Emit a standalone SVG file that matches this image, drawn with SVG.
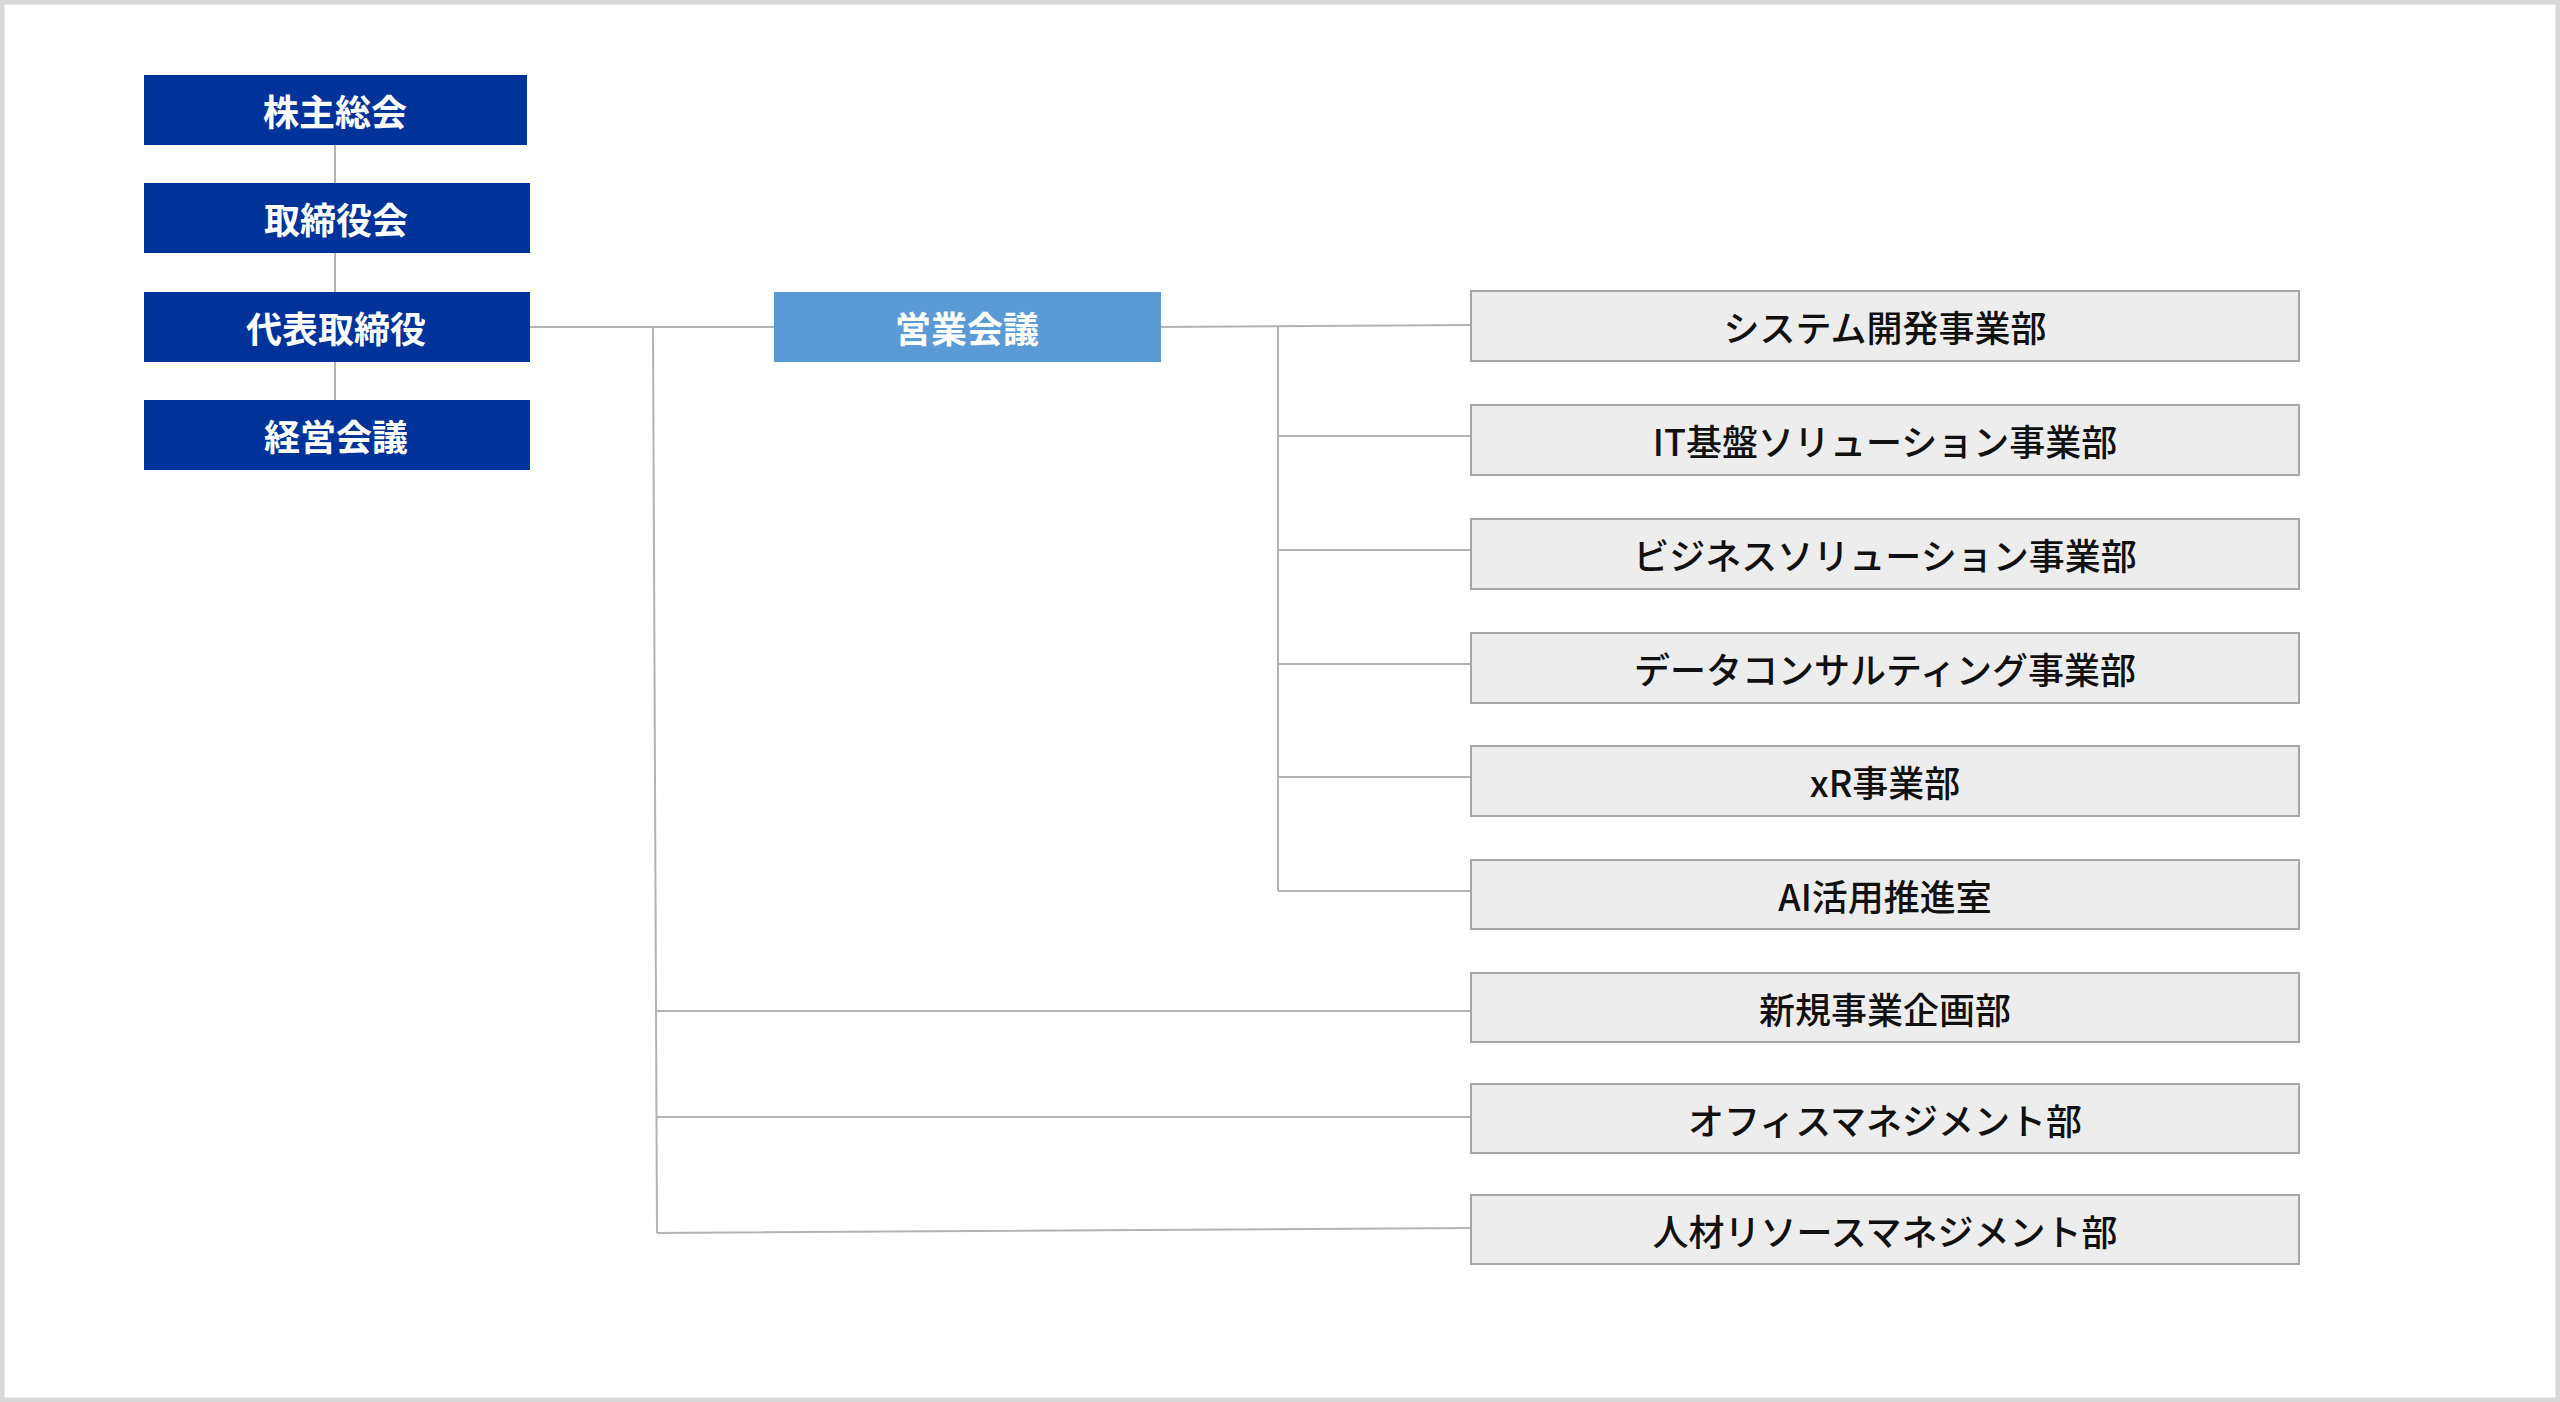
<svg xmlns="http://www.w3.org/2000/svg" width="2560" height="1402" viewBox="0 0 2560 1402">
<style>
text{font-family:"Noto Sans CJK JP","Noto Sans",sans-serif;font-size:36px;text-anchor:middle;dominant-baseline:central;font-weight:bold}
.top rect{fill:#003399}
.top text{fill:#fff}
.mid rect{fill:#5b9bd5}
.mid text{fill:#fff}
.dept rect{fill:#ededed;stroke:#a6a6a6;stroke-width:2}
.dept text{fill:#111;font-weight:500}
#connectors path{fill:none;stroke:#b3b3b3;stroke-width:2}
</style>
<rect x="2" y="2" width="2556" height="1398" fill="#fff" stroke="#d9d9d9" stroke-width="5"/>
<g id="connectors">
<path d="M335 145V183M335 253V292M335 362V400"/>
<path d="M527 327H774"/>
<path d="M653 327L657 1233"/>
<path d="M655 1011H1471M656 1117H1471M657 1233L1471 1228"/>
<path d="M1161 327L1471 325"/>
<path d="M1278 327V891"/>
<path d="M1278 436H1471M1278 550H1471M1278 664H1471M1278 777H1471M1278 891H1471"/>
</g>
<g id="n1" class="top"><rect x="144" y="75" width="383" height="70"/><text x="335" y="110">株主総会</text></g>
<g id="n2" class="top"><rect x="144" y="183" width="386" height="70"/><text x="336" y="218">取締役会</text></g>
<g id="n3" class="top"><rect x="144" y="292" width="386" height="70"/><text x="336" y="327">代表取締役</text></g>
<g id="n4" class="top"><rect x="144" y="400" width="386" height="70"/><text x="336" y="435">経営会議</text></g>
<g id="n5" class="mid"><rect x="774" y="292" width="387" height="70"/><text x="967" y="327">営業会議</text></g>
<g id="d1" class="dept"><rect x="1471" y="291" width="828" height="70"/><text x="1885" y="326">システム開発事業部</text></g>
<g id="d2" class="dept"><rect x="1471" y="405" width="828" height="70"/><text x="1885" y="440">IT基盤ソリューション事業部</text></g>
<g id="d3" class="dept"><rect x="1471" y="519" width="828" height="70"/><text x="1885" y="554">ビジネスソリューション事業部</text></g>
<g id="d4" class="dept"><rect x="1471" y="633" width="828" height="70"/><text x="1885" y="668">データコンサルティング事業部</text></g>
<g id="d5" class="dept"><rect x="1471" y="746" width="828" height="70"/><text x="1885" y="781">xR事業部</text></g>
<g id="d6" class="dept"><rect x="1471" y="860" width="828" height="69"/><text x="1885" y="895">AI活用推進室</text></g>
<g id="d7" class="dept"><rect x="1471" y="973" width="828" height="69"/><text x="1885" y="1008">新規事業企画部</text></g>
<g id="d8" class="dept"><rect x="1471" y="1084" width="828" height="69"/><text x="1885" y="1119">オフィスマネジメント部</text></g>
<g id="d9" class="dept"><rect x="1471" y="1195" width="828" height="69"/><text x="1885" y="1230">人材リソースマネジメント部</text></g>
</svg>
